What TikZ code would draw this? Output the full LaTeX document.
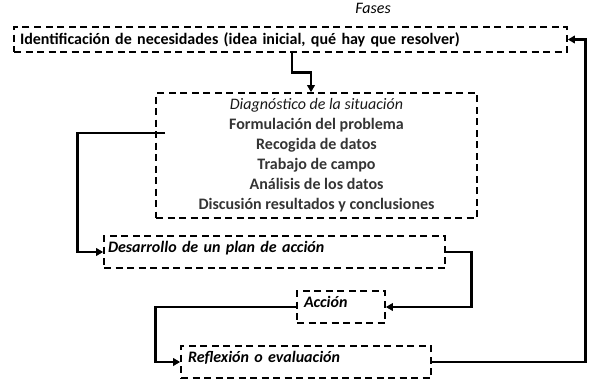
\documentclass[tikz,border=0pt]{standalone}
\usepackage{fontspec}
\setmainfont{Carlito}
\usepackage{tikz}
\usetikzlibrary{arrows.meta, positioning, calc}
\definecolor{gristexto}{RGB}{52,52,52}

\begin{document}
\begin{tikzpicture}[x=1pt, y=-1pt,
    caja/.style={draw, dash pattern=on 7pt off 4.5pt, line width=1.6pt, inner ysep=0pt},
    subida/.style={text height=11pt, text depth=10pt},
    linea/.style={line width=2.8pt},
    flecha/.style={linea, -{Triangle[length=7pt, width=7.5pt]}}]
  \useasboundingbox (0,0) rectangle (596,386);
  % Title
  \node[font=\fontsize{16}{20}\selectfont\itshape] (fases) at (373,8) {Fases};
  % Phase boxes
  \node[caja, font=\fontsize{16}{20}\selectfont\bfseries, minimum width=553pt, minimum height=25pt,
        inner xsep=6pt, text width=541pt, align=left] (necesidades) at (290.5,39.5)
    {Identificación de necesidades (idea inicial, qué hay que resolver)};
  \node[caja, font=\fontsize{16}{20}\selectfont\bfseries, text=gristexto, minimum width=321pt,
        minimum height=125pt, align=center] (diagnostico) at (316.5,155.5)
    {{\mdseries\itshape\color{black!90}Diagnóstico de la situación}\\
     Formulación del problema\\
     Recogida de datos\\
     Trabajo de campo\\
     Análisis de los datos\\
     Discusión resultados y conclusiones};
  \node[caja, subida, font=\fontsize{16}{20}\selectfont\bfseries\itshape, minimum width=341pt,
        minimum height=32pt, inner xsep=4pt, text width=333pt, align=left] (desarrollo) at (274.5,252)
    {Desarrollo de un plan de acción};
  \node[caja, subida, font=\fontsize{16}{20}\selectfont\bfseries\itshape, minimum width=88pt,
        minimum height=32pt, inner xsep=7pt, text width=74pt, align=left] (accion) at (341,307)
    {Acción};
  \node[caja, subida, font=\fontsize{16}{20}\selectfont\bfseries\itshape, minimum width=250pt,
        minimum height=32pt, inner xsep=7pt, text width=236pt, align=left] (reflexion) at (306,362)
    {Reflexión o evaluación};
  % Connectors
  \coordinate (salida) at (165,133);
  \draw[flecha] ([xshift=1.5pt]necesidades.south) -- ++(0,20) -| ([xshift=-5.5pt]diagnostico.north);
  \draw[flecha] (salida) -| ([xshift=-26pt]desarrollo.west) -- (desarrollo.west);
  \draw[flecha] (desarrollo.east) -- ++(26,0) |- (accion.east);
  \draw[flecha] (accion.west) -| ([xshift=-25pt]reflexion.west) -- (reflexion.west);
  \draw[flecha] (reflexion.east) -| ([xshift=18pt]necesidades.east) -- (necesidades.east);
\end{tikzpicture}
\end{document}
